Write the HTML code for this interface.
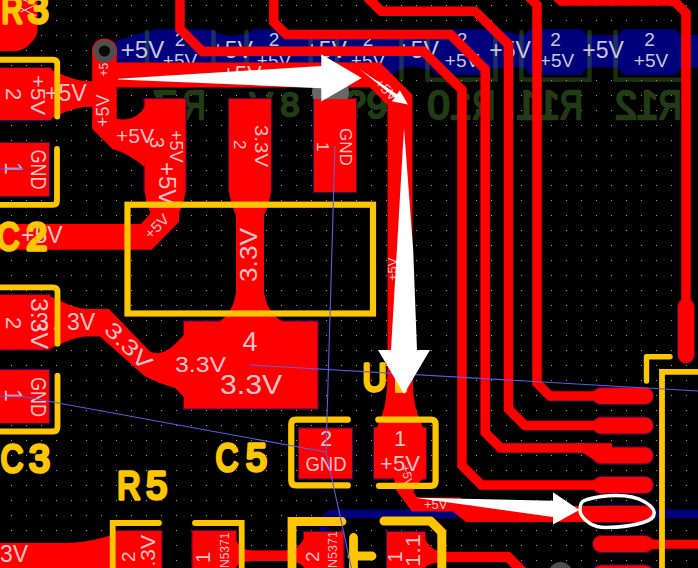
<!DOCTYPE html>
<html>
<head>
<meta charset="utf-8">
<title>PCB</title>
<style>
html,body{margin:0;padding:0;background:#000;overflow:hidden;}
svg{display:block;}
text{font-family:"Liberation Sans",sans-serif;}
.y{fill:#fdc600;stroke:#fdc600;stroke-width:3.5;stroke-linejoin:round;}
.n{fill:#ffc4c8;}
.b{fill:#c8c8dc;}
.g{fill:#213c14;stroke:#213c14;stroke-width:2.4;stroke-linejoin:round;}
</style>
</head>
<body>
<svg width="698" height="568" viewBox="0 0 698 568">
<defs>
<pattern id="grid" x="0" y="0" width="15" height="15" patternUnits="userSpaceOnUse">
<rect x="11" y="5" width="1" height="1" fill="#a0a0a0"/>
</pattern>
<clipPath id="c1"><rect x="9" y="-40" width="20" height="50"/></clipPath>
</defs>
<rect width="698" height="568" fill="#000"/>
<rect width="698" height="568" fill="url(#grid)"/>

<!-- ===== back copper (blue) ===== -->
<g id="bcu" fill="#00007c">
<path d="M108,64 L108,44 L140,33 L175,30 L500,30 L520,35 L698,35 L698,67.5 L520,67.5 L432,70 L410,66 L395,72 L380,86 L108,86 Z"/>
<path d="M148,35 L154,29.3 L205,29.3 L211,35 L211,68 L205,75 L154,75 L148,68 Z"/>
<path d="M242,35 L248,29.3 L299,29.3 L305,35 L305,68 L299,75 L248,75 L242,68 Z"/>
<path d="M336,35 L342,29.3 L393,29.3 L399,35 L399,68 L393,75 L342,75 L336,68 Z"/>
<path d="M430,35 L436,29.3 L487,29.3 L493,35 L493,68 L487,75 L436,75 L430,68 Z"/>
<path d="M524,35 L530,29.3 L581,29.3 L587,35 L587,68 L581,75 L530,75 L524,68 Z"/>
<path d="M618,35 L624,29.3 L675,29.3 L681,35 L681,68 L675,75 L624,75 L618,68 Z"/>
<path d="M324.3,536 L324.3,524 Q324.3,513.9 336,513.9 L698,513.9" fill="none" stroke="#00007c" stroke-width="8.6"/>
</g>
<ellipse cx="233" cy="28.5" rx="20" ry="7" fill="#000"/>

<!-- back silk (dim green) -->
<g id="bsilk" fill="none" stroke="rgba(85,160,55,0.30)" stroke-width="4.5" stroke-linecap="round">
<path d="M147,32 L147,66 M213.5,32 L213.5,79.8 M246.5,32 L246.5,79.8 M310.7,32 L310.7,79.8 M337,32 L337,79.8 M401.5,40 L401.5,79.8 M427.5,40 L427.5,79.8 L495.5,79.8 L495.5,32 M521.5,32 L521.5,79.8 L589.5,79.8 L589.5,32 M615.6,32 L615.6,79.8 L683.6,79.8 L683.6,32"/>
</g>
<g class="g" font-size="40" text-anchor="middle">
<text transform="translate(194,118.8) scale(-0.8,1)">R</text>
<text transform="translate(165,118.8) scale(-1.1,1)">7</text>
<text x="261" y="115.6" font-size="34">V</text><text x="290" y="115.6" font-size="34">8</text>
<text x="355.5" y="118" font-size="38">?</text><text x="377" y="118" font-size="38">9</text>
<text transform="translate(483.7,118.8) scale(-0.8,1)">R</text>
<text transform="translate(461,118.8) scale(-1.0,1)">1</text>
<text transform="translate(438.7,118.8) scale(-1.0,1)">0</text>
<text transform="translate(571.2,118.8) scale(-0.8,1)">R</text>
<text transform="translate(549,118.8) scale(-1.0,1)">1</text>
<text transform="translate(527,118.8) scale(-1.0,1)">1</text>
<text transform="translate(670,118.8) scale(-0.8,1)">R</text>
<text transform="translate(647.5,118.8) scale(-1.0,1)">1</text>
<text transform="translate(626,118.8) scale(-1.0,1)">2</text>
</g>

<!-- labels on blue -->
<g class="b" text-anchor="middle">
<text x="142.5" y="58" font-size="24">+5V</text>
<g font-size="19">
<text x="180" y="45.8">2</text><text x="180" y="66.6">+5V</text>
<text x="274" y="45.8">2</text><text x="274" y="66.6">+5V</text>
<text x="368" y="45.8">2</text><text x="368" y="66.6">+5V</text>
<text x="462" y="45.8">2</text><text x="462" y="66.6">+5V</text>
<text x="555.5" y="45.8">2</text><text x="557" y="66.6">+5V</text>
<text x="649.5" y="45.8">2</text><text x="651" y="66.6">+5V</text>
</g>
<g font-size="23">
<text x="232" y="58">+5V</text>
<text x="326" y="58">+5V</text>
<text x="418" y="58">+5V</text>
<text x="510" y="58">+5V</text>
<text x="603" y="58">+5V</text>
</g>
</g>

<!-- pad clearance outlines -->
<g fill="#3a0c4a">
<rect x="-1.3" y="66.7" width="53.6" height="54.6"/>
<rect x="143.4" y="97.7" width="43.4" height="95.1"/>
<rect x="227.7" y="97.7" width="44.6" height="95.1"/>
<rect x="312.7" y="97.7" width="44.6" height="95.6"/>
<rect x="182.7" y="320.2" width="136.1" height="89.6"/>
<rect x="-1.3" y="141.7" width="51.6" height="55.6"/>
<rect x="-1.3" y="293.7" width="52.6" height="57.1"/>
<rect x="-1.3" y="368.7" width="51.6" height="55.6"/>
<rect x="297.7" y="427.2" width="55.6" height="52.6"/>
<rect x="372.7" y="426.7" width="54.6" height="53.1"/>
<rect x="113.7" y="529.7" width="49.1" height="40.6"/>
<rect x="191.2" y="529.7" width="46.1" height="40.6"/>
<rect x="302.7" y="530.7" width="42.1" height="38.6"/>
<rect x="385.7" y="530.7" width="40.6" height="38.6"/>
<rect x="591.8" y="386.8" width="62.4" height="18.4" rx="9.2"/>
<rect x="591.8" y="416.3" width="62.4" height="18.4" rx="9.2"/>
<rect x="591.8" y="446.3" width="62.4" height="18.4" rx="9.2"/>
<rect x="591.8" y="475.8" width="62.4" height="18.4" rx="9.2"/>
<rect x="591.8" y="504.8" width="62.4" height="18.4" rx="9.2"/>
<rect x="591.8" y="534.8" width="62.4" height="18.4" rx="9.2"/>
<rect x="591.8" y="564.3" width="62.4" height="18.4" rx="9.2"/>
<rect x="676.8" y="297.8" width="18.4" height="66.4" rx="9.2"/>
</g>
<!-- ===== front copper (red) ===== -->
<g id="fcu" fill="#ff0000" stroke="none">
<!-- R3 pad -->
<path d="M0,0 L37.5,0 L37.5,30 Q37,38 29,45 Q22,51.3 13,51.3 L0,51.3 Z"/>
<!-- via ring -->
<circle cx="104.5" cy="51" r="12.6"/>
<!-- main +5V -->
<g fill="none" stroke="#ff0000" stroke-linejoin="miter" stroke-linecap="butt">
<path d="M104.5,51 L104.5,126" stroke-width="24.5"/>
<path d="M100,75 L375,75 L400,100 L400,400" stroke-width="25"/>
<path d="M26,94 L104.5,94" stroke-width="25"/>
<!-- thin traces -->
<g stroke-width="9.5">
<path d="M180,-2 L180,29 L202.4,51.4 L423,51 L462,90 L462,465.5 L481.5,485 L600,485"/>
<path d="M273.8,-2 L273.8,22 L286.4,34.6 L450.5,34.6 L485.2,69.3 L485.2,432.5 L500.7,448 L612,448"/>
<path d="M356,-14 L381.25,11.25 L475,11.25 L508.5,44.5 L508.5,409 L525,425.5 L600,425.5"/>
<path d="M520,-12 L537,5 L537,383 L550,396 L600,396"/>
<path d="M549,-11 L561,1 L674,1 L686,13 L686,310"/>
<path d="M640,544.25 L698,544.25" stroke-width="8.8"/>
<path d="M425,557 L508,557 L532,581" stroke-width="10"/>
<path d="M236,555.8 L303,555.8" stroke-width="10.5"/>
</g>
</g>
<!-- left pad +5V 2 and neck -->
<rect x="0" y="68" width="51" height="52"/>
<path d="M50,69 C66,77 78,81.5 94,81.5 L94,106.5 C78,106.5 66,111 50,119 Z"/>
<!-- blob from via trace to pad 3 -->
<path d="M92.2,120 L92.2,129 L112.5,149 Q128,153 144.7,167 L146,104 Q138,122 116.7,119 Z"/>
<circle cx="330.5" cy="92" r="18.5" fill="#686868"/>
<!-- U1 pads -->
<rect x="144.7" y="99" width="40.8" height="92.5"/>
<rect x="229" y="99" width="42" height="92.5"/>
<rect x="314" y="99" width="42" height="93"/>
<!-- pad3 down to C2 trace -->
<path d="M144.7,191 Q146,204 150.7,213 L141,224 L0,224 L0,249.7 L151.6,249.7 L179,222 L179,213 Q184,204 185.5,191 Z"/>
<!-- pad 2 (3.3V) down to pad 4 -->
<path d="M229,191 Q231,206 236,215 L236,291 Q234,312 219,322 L283,322 Q266,312 264,291 L264,215 Q269,206 271,191 Z"/>
<rect x="184" y="321.5" width="133.5" height="87"/>
<!-- C2 gnd pad, C3 pads -->
<rect x="0" y="143" width="49" height="53"/>
<rect x="0" y="295" width="50" height="54.5"/>
<rect x="0" y="370" width="49" height="53"/>
<!-- C3 3.3V trace to pad 4 -->
<path d="M49,296 C62,301 74,309 90,309 L109,309 L150,351.5 Q162,357 175,344 L185,334 L185,398 L175,388 Q160,384 145,376.5 L100,336.5 L86,336.5 C72,337.5 62,344 49,349 Z"/>
<!-- C5 pads -->
<rect x="299" y="428.5" width="53" height="50"/>
<rect x="374" y="428" width="52" height="50.5"/>
<path d="M387.5,376 C387.5,400 383,417 376,428.5 L424,428.5 C417,417 412.5,400 412.5,376 Z"/>
<!-- C5 pad1 -> IC pad D -->
<path d="M394,478 L396,490 L412,511.6 L453,511.6 L466,522 L620,522 L620,506 L470,506 L460,497.6 L417,497.6 L413.5,492 Q416,483 425,478 Z"/>
<!-- IC pads -->
<rect x="593" y="388" width="60" height="16" rx="8"/>
<rect x="593" y="417.5" width="60" height="16" rx="8"/>
<rect x="593" y="447.5" width="60" height="16" rx="8"/>
<rect x="593" y="477" width="60" height="16" rx="8"/>
<rect x="593" y="506" width="60" height="16" rx="8"/>
<rect x="593" y="536" width="60" height="16" rx="8"/>
<rect x="593" y="565.5" width="60" height="16" rx="8"/>
<path d="M575,443.2 L583,443.2 Q592,444 600,447.5 L600,463 Q590,458 583,452.7 L575,452.7 Z"/>
<path d="M640,536 Q650,540 660,540 L660,548.6 Q650,549 640,552 Z"/>
<rect x="678" y="299" width="16" height="64" rx="8"/>
<!-- bottom row -->
<path d="M0,543 L70,543 Q98,541 116,533 L116,568 L0,568 Z"/>
<rect x="115" y="531" width="46.5" height="38"/>
<rect x="192.5" y="531" width="43.5" height="38"/>
<path d="M235,538 Q240,550.5 252,550.5 L252,561 Q240,561 235,568 Z"/>
<rect x="304" y="532" width="39.5" height="36"/>
<path d="M305,536 Q299,550.5 286,550.5 L286,561 Q299,561 305,568 Z"/>
<rect x="387" y="532" width="38" height="36"/>
<path d="M424,536 Q430,552 446,552 L446,562 Q430,562 424,568 Z"/>
</g>

<!-- via -->
<circle cx="104.5" cy="51" r="11.6" fill="#4e4e4e"/>
<circle cx="104.5" cy="51" r="5.6" fill="#0a0a0a"/>
<circle cx="560.5" cy="574" r="12" fill="#4e4e4e"/>

<!-- ===== net labels on red ===== -->
<g class="n">
<text transform="translate(6,88) rotate(90)" font-size="22">2</text>
<text transform="translate(31,75) rotate(90)" font-size="21" textLength="40" lengthAdjust="spacingAndGlyphs">+5V</text>
<text x="45" y="101" font-size="23">+5V</text>
<text transform="translate(109,127) rotate(-90)" font-size="18">+5V</text>
<text transform="translate(108,76.5) rotate(-90)" font-size="12">+5</text>
<text x="116" y="143" font-size="21">+5V</text>
<text transform="translate(150,137) rotate(90)" font-size="20">3</text>
<text transform="translate(170,130) rotate(90)" font-size="18">+5V</text>
<text transform="translate(158.5,162) rotate(90)" font-size="24">+5V</text>
<text transform="translate(150.5,240) rotate(-45)" font-size="15" textLength="28" lengthAdjust="spacingAndGlyphs">+5V</text>
<text transform="translate(234,140) rotate(90)" font-size="17">2</text>
<text transform="translate(255,125) rotate(90)" font-size="19" textLength="42" lengthAdjust="spacingAndGlyphs">3.3V</text>
<text transform="translate(256.5,282) rotate(-90)" font-size="23" textLength="54" lengthAdjust="spacingAndGlyphs">3.3V</text>
<text transform="translate(317,142) rotate(90)" font-size="17">1</text>
<text transform="translate(340,128) rotate(90)" font-size="17">GND</text>
<text transform="translate(5,162) rotate(90)" font-size="23">1</text>
<text transform="translate(31,149.5) rotate(90)" font-size="22" textLength="40" lengthAdjust="spacingAndGlyphs">GND</text>
<text x="21" y="243" font-size="23">+5V</text>
<text x="222" y="80.5" font-size="22">+5V</text>
<text transform="translate(374,84) rotate(45)" font-size="14">+5V</text>
<text transform="translate(6,317) rotate(90)" font-size="22">2</text>
<text transform="translate(30.5,298) rotate(90)" font-size="23" textLength="51" lengthAdjust="spacingAndGlyphs">3.3V</text>
<text x="36" y="329.5" font-size="23">3</text><text x="52" y="329.5" font-size="23">.</text><text x="67" y="329.5" font-size="23">3V</text>
<text transform="translate(103,331) rotate(45)" font-size="22" textLength="57" lengthAdjust="spacingAndGlyphs">3.3V</text>
<text transform="translate(5,389) rotate(90)" font-size="23">1</text>
<text transform="translate(31,377) rotate(90)" font-size="22" textLength="40" lengthAdjust="spacingAndGlyphs">GND</text>
<text x="250" y="351" font-size="27" text-anchor="middle">4</text>
<text x="175" y="371.5" font-size="22" textLength="51" lengthAdjust="spacingAndGlyphs">3.3V</text>
<text x="220" y="394" font-size="28" textLength="62" lengthAdjust="spacingAndGlyphs">3.3V</text>
<text x="326" y="446" font-size="22" text-anchor="middle">2</text>
<text x="326" y="471" font-size="21" text-anchor="middle" textLength="41" lengthAdjust="spacingAndGlyphs">GND</text>
<text x="400" y="446" font-size="22" text-anchor="middle">1</text>
<text x="400" y="471" font-size="22" text-anchor="middle">+5V</text>
<text transform="translate(401,466) rotate(78)" font-size="12">+5V</text>
<text x="424" y="508.5" font-size="13">+5V</text>
<text transform="translate(397,281) rotate(-90)" font-size="13">+5V</text>
<text x="0" y="562" font-size="23">3V</text>
<text transform="translate(134.5,562) rotate(-90)" font-size="19">2</text>
<text transform="translate(154.5,566.5) rotate(-90)" font-size="21">.3V</text>
<text transform="translate(210,563) rotate(-90)" font-size="20">1</text>
<text transform="translate(229,568) rotate(-90)" font-size="12">N5371</text>
<text transform="translate(319,562) rotate(-90)" font-size="19">2</text>
<text transform="translate(336.5,568) rotate(-90)" font-size="12.5">N5371</text>
<text transform="translate(402,562.5) rotate(-90)" font-size="20">1</text>
<text transform="translate(419.5,567) rotate(-90)" font-size="20" textLength="33" lengthAdjust="spacingAndGlyphs">1.1</text>
<path d="M36.5,4.5 L20.5,12 M20.5,8 L36.5,16 M23,0 L28,1.5" fill="none" stroke="#ffc4c8" stroke-width="1.3"/>
</g>

<!-- ===== front silk (yellow) ===== -->
<g id="fsilk" fill="none" stroke="#fdc600" stroke-width="5.8" stroke-linecap="round" stroke-linejoin="round">
<path d="M-3,59.75 L53,59.75 Q57.25,59.75 57.25,64 L57.25,116.5"/>
<path d="M57,149 L57,200.5 Q57,204.9 53,204.9 L-3,204.9"/>
<path d="M-3,287.4 L53,287.4 Q57.5,287.4 57.5,292 L57.5,343.7"/>
<path d="M57.5,375.7 L57.5,427 Q57.5,431.5 53,431.5 L-3,431.5"/>
<rect x="127.5" y="204.7" width="245.5" height="108.8" stroke-width="6.2" stroke-linejoin="miter"/>
<path d="M347.8,419.6 L296,419.6 Q291.25,419.6 291.25,424.5 L291.25,480.5 Q291.25,485.4 296,485.4 L347.8,485.4" stroke-width="6.2"/>
<path d="M378.3,419.6 L431,419.6 Q435.6,419.6 435.6,424.3 L435.6,481 Q435.6,485.8 431,485.8 L379,485.8" stroke-width="6.2"/>
<path d="M159,523 L112.7,523 L112.7,571" stroke-linejoin="miter"/>
<path d="M195,523 L241.7,523 L241.7,571" stroke-linejoin="miter"/>
<path d="M342,521.5 L292,521.5 L292,572" stroke-width="8.8" stroke-linejoin="miter"/>
<path d="M353.5,537.5 L353.5,572 M352,556 L372,556" stroke-width="8.8"/>
<path d="M384,521 L430.5,521 L441.8,532.3 L441.8,572" stroke-width="9"/>
<path d="M701,371.8 L662,371.8 L662,572" stroke-linejoin="miter"/>
<path d="M646.5,381 L646.5,356.75 L670,356.75" stroke-width="5.4"/>
</g>
<g class="y" font-size="38">
<text transform="translate(1.6,23.3) scale(0.77,1)">R</text><text transform="translate(27.8,23.3) scale(0.99,1)">3</text>
<text transform="translate(-3,249.8) scale(0.82,1)">C</text><text transform="translate(26.2,249.8) scale(0.99,1)">2</text>
<text transform="translate(0.8,471.5) scale(0.82,1)">C</text><text transform="translate(29,471.5) scale(0.99,1)">3</text>
<text transform="translate(215.8,471.2) scale(0.82,1)">C</text><text transform="translate(245.9,471.2) scale(0.99,1)">5</text>
<text transform="translate(117.2,499.3) scale(0.85,1)">R</text><text transform="translate(146.2,499.3) scale(0.99,1)">5</text>
<text transform="translate(362.6,391.4) scale(0.88,1)">U</text><text transform="translate(386,391.2)" clip-path="url(#c1)">1</text>
</g>

<!-- ratsnest -->
<g fill="none" stroke="#5c5ce6" stroke-width="1.1">
<path d="M335,146 L326,452 L351.5,568"/>
<path d="M0,396.3 L20,396 L326,452"/>
<path d="M250,365 L698,391"/>
<path d="M0,169 L24,169 M18,165 L20,169"/>
</g>

<!-- ===== annotations (white) ===== -->
<g fill="#fff">
<path d="M118,78.7 L321.3,66 L321.3,54.3 L361.7,78 L321.3,101.6 L321.3,88.2 L118,79.4 Z"/>
<path d="M360,69.5 L397,94.3 L399.8,90.3 L408,104.6 L391.8,101.3 L394.8,97.4 Z"/>
<path d="M404,128 L413.2,250 L417,350 L430,350 L404,394 L378,350 L391,350 Z"/>
<path d="M415,497.7 L553,500.8 L553,492.3 L579.3,510 L553,524.5 L553,517 Z"/>
<path d="M580,510 C580,503 582,500.5 587,499.5 C598,496.5 608,495.6 616,495.6 C628,495.6 638,498 644,501.5 C650,505 654.2,509 654.2,513 C654.2,518 650,520.5 643,522.5 C632,526 618,527.4 606,527.4 C598,527.4 594,526 590,523.5 C584,519.5 580,515 580,510 Z" fill="none" stroke="#fff" stroke-width="3.5" stroke-linejoin="round"/>
</g>
</svg>
</body>
</html>
